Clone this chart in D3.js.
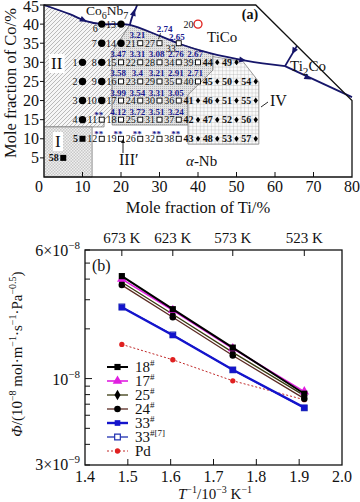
<!DOCTYPE html>
<html>
<head>
<meta charset="utf-8">
<script src="https://cdn.jsdelivr.net/npm/d3@7"></script>
<style>
body { margin: 0; background: #fff; }
text { font-family: "Liberation Serif", "DejaVu Serif", serif; fill: #111; }
</style>
</head>
<body>
<div id="chart"></div>
<script>
// ---- panel (a): alloy compositions (mole fraction Ti, Co) ----
var ptNum = [1,2,3,4,5,6,7,8,9,10,11,12,13,14,15,16,17,18,19,20,
    21,22,23,24,25,26,27,28,29,30,31,32,33,34,35,36,37,38,39,40,
    41,42,43,44,45,46,47,48,49,50,51,52,53,54,55,56,57,58];
var ptTi = [10,10,10,10,10,15,15,15,15,15,15,15,20,20,20,20,20,20,20,40,
    25,25,25,25,25,25,30,30,30,30,30,30,35,35,35,35,35,35,40,40,
    40,40,40,45,45,45,45,45,50,50,50,50,50,55,55,55,55,5];
var ptCo = [30,25,20,15,10,40,35,30,25,20,15,10,40,35,30,25,20,15,10,40,
    35,30,25,20,15,10,35,30,25,20,15,10,35,30,25,20,15,10,30,25,
    20,15,10,30,25,20,15,10,30,25,20,15,10,25,20,15,10,5];
var ptKind = ["dot","dot","dot","dot","sq","dot","dot","dot","dot","dot",
    "open","open","dot","dot","open","open","open","open","open","ring",
    "open","open","open","open","open","open","open","open","open","open",
    "open","open","open","open","open","open","open","open","open","open",
    "dia","dia","dia","dia","dia","dia","dia","dia","dia","dia",
    "dia","dia","dia","dia","dia","dia","dia","sq"];

// permeability values written over the samples
var permNum = [15,16,17,18,21,22,23,24,25,27,28,29,30,31,33,34,35,36,37,39,40];
var permVal = ["3.47","3.58","3.99","4.12","3.21","3.31","3.4","3.54","3.72",
    "2.74","3.08","3.21","3.31","3.51","2.65","2.76","2.91","3.05","3.24","2.67","2.71"];
var starNum = [11,12,19,26,32,38];

// phase boundaries (Ti, Co)
var mainLine = [[0,45],[6.7,42.6],[10.9,40.8],[15,40],[19.2,40],[22.3,39.8],
    [30.1,36.9],[35.3,34.8],[43.1,32.4],[52.7,30.4],[62.6,29]];
var co6nb7Line = [[22.3,39.8],[22.9,41.9],[23.8,44],[24.2,45]];
var ti2coUp = [[62.6,29],[65.7,34.3]];
var ti2coDown = [[62.6,29],[80,20.9]];

// shaded regions (Ti, Co)
var regionII = [[0,45],[6.7,42.6],[10.9,40.8],[15,40],[19.2,40],[22.3,39.8],
    [17.7,32.7],[17.7,17],[15.6,14.9],[15.6,13.1],[0,13.1]];
var regionIII = [[22.3,39.8],[30.1,36.9],[35.3,34.8],[43.1,32.4],[43.9,32.1],
    [43.9,28],[37.4,21.5],[37.4,13.6],[17.7,13.6],[17.7,32.7]];
var regionIV = [[43.9,31.5],[51.7,30.2],[55.8,24.9],[55.8,8.6],[37.4,8.6],[37.4,21.5],[43.9,28]];
var regionI = [[0,13.1],[12.5,13.1],[12.5,0],[0,0]];

// ---- panel (b): permeability vs 1/T ----
var invT = [1.486, 1.605, 1.745, 1.912];
var tempLabels = ["673 K", "623 K", "573 K", "523 K"];
var phi18 = [4.17e-8, 2.63e-8, 1.54e-8, 0.81e-8];
var phi17 = [4.00e-8, 2.59e-8, 1.52e-8, 0.834e-8];
var phi25 = [3.83e-8, 2.45e-8, 1.44e-8, 0.789e-8];
var phi24 = [3.68e-8, 2.35e-8, 1.38e-8, 0.756e-8];
var phi33 = [2.70e-8, 1.83e-8, 1.13e-8, 0.667e-8];
var phi33ref = [2.71e-8, 1.84e-8, 1.13e-8, 0.665e-8];
var phiPd = [1.61e-8, 1.30e-8, 0.97e-8, 0.745e-8];

var svg = d3.select("#chart").append("svg")
    .attr("width", 360)
    .attr("height", 502);

var defs = svg.append("defs");

//diagonal hatch for region II
var hatch = defs.append("pattern").attr("id", "hatch")
    .attr("patternUnits", "userSpaceOnUse").attr("width", 4).attr("height", 4);
hatch.append("rect").attr("width", 4).attr("height", 4).attr("fill", "#f6f6f6");
hatch.append("path").attr("d", "M-1,1L1,-1M0,4L4,0M3,5L5,3")
    .attr("stroke", "#a0a0a0").attr("stroke-width", 0.7);

//stipple for region III
var stip = defs.append("pattern").attr("id", "stip")
    .attr("patternUnits", "userSpaceOnUse").attr("width", 2).attr("height", 2);
stip.append("rect").attr("width", 2).attr("height", 2).attr("fill", "#e4e4e4");
stip.append("rect").attr("width", 1).attr("height", 1).attr("fill", "#b8b8b8");

//grid for region IV
var grid = defs.append("pattern").attr("id", "grid")
    .attr("patternUnits", "userSpaceOnUse").attr("width", 3.7).attr("height", 3.7);
grid.append("rect").attr("width", 3.7).attr("height", 3.7).attr("fill", "#fafafa");
grid.append("path").attr("d", "M0,0H3.7M0,0V3.7")
    .attr("stroke", "#a4a4a4").attr("stroke-width", 0.6);

//checker for region I
var check = defs.append("pattern").attr("id", "check")
    .attr("patternUnits", "userSpaceOnUse").attr("width", 3).attr("height", 3);
check.append("rect").attr("width", 3).attr("height", 3).attr("fill", "#f0f0f0");
check.append("rect").attr("width", 1.5).attr("height", 1.5).attr("fill", "#c8c8c8");
check.append("rect").attr("x", 1.5).attr("y", 1.5).attr("width", 1.5).attr("height", 1.5).attr("fill", "#c8c8c8");

// =================== panel (a) ===================
var xa = d3.scaleLinear().domain([0, 80]).range([44, 352]);
var ya = d3.scaleLinear().domain([0, 45]).range([177, 5]);
var lineA = d3.line().x(function(d){ return xa(d[0]); }).y(function(d){ return ya(d[1]); });
var curveA = d3.line().x(function(d){ return xa(d[0]); }).y(function(d){ return ya(d[1]); })
    .curve(d3.curveCatmullRom);

var pa = svg.append("g");

function region(pts, fill){
    pa.append("path")
        .attr("d", lineA(pts) + "Z")
        .attr("fill", fill)
        .attr("stroke", "#808080")
        .attr("stroke-width", 0.8);
}
region(regionII, "url(#hatch)");
region(regionIII, "url(#stip)");
region(regionIV, "url(#grid)");
region(regionI, "url(#check)");

//phase boundaries
var navy = "#16166a";
[mainLine, co6nb7Line, ti2coUp, ti2coDown].forEach(function(l){
    pa.append("path")
        .attr("d", curveA(l))
        .attr("fill", "none")
        .attr("stroke", navy)
        .attr("stroke-width", 1.8);
});

//arrowheads on the boundaries: [at, toward]
var arrows = [
    [[10.2, 41.1], [11.5, 40.5]],
    [[51.5, 30.6], [53, 30.35]],
    [[64.9, 33], [64.3, 31.9]],
    [[68.5, 26], [69.5, 25.5]],
    [[23.3, 43], [23.6, 44]]
];
arrows.forEach(function(a){
    var x0 = xa(a[0][0]), y0 = ya(a[0][1]);
    var ang = Math.atan2(ya(a[1][1]) - y0, xa(a[1][0]) - x0) * 180 / Math.PI;
    pa.append("path")
        .attr("d", "M4,0L-3,-3L-3,3Z")
        .attr("fill", navy)
        .attr("transform", "translate(" + x0 + "," + y0 + ") rotate(" + ang + ")");
});

//axes frame (composition triangle cuts the corner)
pa.append("path")
    .attr("d", lineA([[0,45],[55,45],[80,20],[80,0],[0,0]]) + "Z")
    .attr("fill", "none")
    .attr("stroke", "#111")
    .attr("stroke-width", 1.3);

//ticks
var xTicksA = d3.range(10, 80, 10);
pa.selectAll(".xtA").data(xTicksA).enter().append("line")
    .attr("x1", function(d){ return xa(d); }).attr("x2", function(d){ return xa(d); })
    .attr("y1", ya(0)).attr("y2", ya(0) - 5)
    .attr("stroke", "#111");
var yTicksA = d3.range(5, 50, 5);
pa.selectAll(".ytA").data(yTicksA).enter().append("line")
    .attr("x1", xa(0)).attr("x2", xa(0) - 4)
    .attr("y1", function(d){ return ya(d); }).attr("y2", function(d){ return ya(d); })
    .attr("stroke", "#111");

pa.selectAll(".xlA").data(d3.range(0, 90, 10)).enter().append("text")
    .attr("x", function(d){ return d == 0 ? xa(0) - 5 : xa(d); })
    .attr("y", 192)
    .attr("text-anchor", "middle")
    .style("font-size", "16px")
    .text(function(d){ return d; });
pa.selectAll(".ylA").data(yTicksA).enter().append("text")
    .attr("x", 39)
    .attr("y", function(d){ return d == 45 ? ya(d) + 7 : ya(d) + 5.5; })
    .attr("text-anchor", "end")
    .style("font-size", "16px")
    .text(function(d){ return d; });

pa.append("text")
    .attr("x", 198).attr("y", 213)
    .attr("text-anchor", "middle")
    .style("font-size", "16.5px")
    .text("Mole fraction of Ti/%");
pa.append("text")
    .attr("transform", "translate(16,83) rotate(-90)")
    .attr("text-anchor", "middle")
    .style("font-size", "16.5px")
    .text("Mole fraction of Co/%");

//sample markers
var pts = ptNum.map(function(n, i){
    return {n: n, x: xa(ptTi[i]), y: ya(ptCo[i]), kind: ptKind[i]};
});
var byNum = {};
pts.forEach(function(p){ byNum[p.n] = p; });

pts.forEach(function(p){
    if (p.kind == "dot") {
        pa.append("circle").attr("cx", p.x).attr("cy", p.y).attr("r", 3.7).attr("fill", "#000");
    } else if (p.kind == "sq") {
        pa.append("rect").attr("x", p.x - 3).attr("y", p.y - 3).attr("width", 6).attr("height", 6).attr("fill", "#000");
    } else if (p.kind == "open") {
        pa.append("rect").attr("x", p.x - 2.5).attr("y", p.y - 2.5).attr("width", 5).attr("height", 5)
            .attr("fill", "#fff").attr("stroke", "#000").attr("stroke-width", 0.9);
    } else if (p.kind == "dia") {
        pa.append("path").attr("d", "M0,-3L2.2,0L0,3L-2.2,0Z").attr("fill", "#000")
            .attr("transform", "translate(" + p.x + "," + p.y + ")");
    } else if (p.kind == "ring") {
        pa.append("circle").attr("cx", p.x).attr("cy", p.y).attr("r", 4)
            .attr("fill", "none").attr("stroke", "#e0201c").attr("stroke-width", 1.3);
    }
    //sample number
    var dx = p.kind == "dot" ? -5 : -4.5, dy = 3.5;
    if (p.n == 6) { dx = -4; dy = 8; }
    if (p.n == 33) { dx = -3; dy = 9; }
    pa.append("text")
        .attr("x", p.x + dx).attr("y", p.y + dy)
        .attr("text-anchor", "end")
        .style("font-size", "10px")
        .style("font-weight", p.kind == "sq" || p.kind == "dia" ? "bold" : "normal")
        .text(p.n);
});

//permeability labels
var blue = "#1a1a8e";
permNum.forEach(function(n, i){
    var p = byNum[n];
    var dx = -3, dy = -5;
    if (n == 27) { dx = 5; dy = -11.5; }
    if (n == 33) { dx = -2; dy = -3.5; }
    pa.append("text")
        .attr("x", p.x + dx).attr("y", p.y + dy)
        .attr("text-anchor", "middle")
        .style("font-size", "9px")
        .style("font-weight", "bold")
        .style("fill", blue)
        .text(permVal[i]);
});
//pointer from 2.74 to its sample
pa.append("line")
    .attr("x1", byNum[27].x + 1).attr("y1", byNum[27].y - 10)
    .attr("x2", byNum[27].x - 1).attr("y2", byNum[27].y - 4)
    .attr("stroke", "#111").attr("stroke-width", 0.8);
starNum.forEach(function(n){
    var p = byNum[n];
    pa.append("text")
        .attr("x", p.x - 3).attr("y", p.y - 1.5)
        .attr("text-anchor", "middle")
        .style("font-size", "9px")
        .style("font-weight", "bold")
        .style("fill", blue)
        .text("**");
});

//phase labels, subscripts shifted with dy
function label(x, y, size, parts, bg){
    var t = pa.append("text").attr("x", x).attr("y", y).style("font-size", size + "px");
    var low = false;
    parts.forEach(function(s){
        var ts = t.append("tspan").text(s[0]);
        if (s[1] == "sub") { ts.style("font-size", (size * 0.75) + "px").attr("dy", 3.5); low = true; }
        else if (low) { ts.attr("dy", -3.5); low = false; }
        if (s[1] == "it") ts.style("font-style", "italic");
    });
    if (bg) {
        var b = t.node().getBBox();
        pa.insert("rect", "text").attr("x", b.x - 2).attr("y", b.y).attr("width", b.width + 4)
            .attr("height", b.height).attr("fill", "#fff");
    }
    return t;
}
label(86, 15, 13.5, [["Co"], ["6", "sub"], ["Nb"], ["7", "sub"]]);
label(207, 42, 15, [["TiCo"]]);
label(290, 71, 15, [["Ti"], ["2", "sub"], ["Co"]]);
label(51, 69, 17, [["II"]], true);
label(55, 147, 17, [["I"]], true);
label(119, 165, 16, [["III\u2032"]]);
label(270, 106, 16, [["IV"]]);
label(186, 166, 15, [["\u03b1", "it"], ["-Nb"]]);
pa.append("text").attr("x", 250).attr("y", 19)
    .attr("text-anchor", "middle")
    .style("font-size", "14px").style("font-weight", "bold")
    .text("(a)");
//leader lines
pa.append("line").attr("x1", 123).attr("y1", 153).attr("x2", 123).attr("y2", 141)
    .attr("stroke", "#111").attr("stroke-width", 0.9);
pa.append("path").attr("d", "M123,139L121,143L125,143Z").attr("fill", "#111");
pa.append("line").attr("x1", 268).attr("y1", 102).attr("x2", 261).attr("y2", 107)
    .attr("stroke", "#111").attr("stroke-width", 0.9);

// =================== panel (b) ===================
var xb = d3.scaleLinear().domain([1.4, 2.0]).range([85, 342]);
var yb = d3.scaleLog().domain([3e-9, 6e-8]).range([465, 250]);
var pb = svg.append("g");

pb.append("rect")
    .attr("x", xb(1.4)).attr("y", yb(6e-8))
    .attr("width", xb(2.0) - xb(1.4)).attr("height", yb(3e-9) - yb(6e-8))
    .attr("fill", "none").attr("stroke", "#111").attr("stroke-width", 1.3);

//bottom ticks
var xTicksB = [1.5, 1.6, 1.7, 1.8, 1.9];
pb.selectAll(".xtB").data(xTicksB).enter().append("line")
    .attr("x1", function(d){ return xb(d); }).attr("x2", function(d){ return xb(d); })
    .attr("y1", yb(3e-9)).attr("y2", yb(3e-9) - 6)
    .attr("stroke", "#111");
pb.selectAll(".xlB").data([1.4, 1.5, 1.6, 1.7, 1.8, 1.9, 2.0]).enter().append("text")
    .attr("x", function(d){ return xb(d); })
    .attr("y", 482)
    .attr("text-anchor", "middle")
    .style("font-size", "16px")
    .text(function(d){ return d3.format(".1f")(d); });

//top ticks (temperatures)
pb.selectAll(".ttB").data(invT).enter().append("line")
    .attr("x1", function(d){ return xb(d); }).attr("x2", function(d){ return xb(d); })
    .attr("y1", yb(6e-8)).attr("y2", yb(6e-8) + 6)
    .attr("stroke", "#111");
pb.selectAll(".tlB").data(invT).enter().append("text")
    .attr("x", function(d){ return xb(d); })
    .attr("y", 243)
    .attr("text-anchor", "middle")
    .style("font-size", "15px")
    .text(function(d, i){ return tempLabels[i]; });

//log ticks
var yTicksB = d3.range(3, 10).map(function(v){ return v * 1e-9; })
    .concat(d3.range(1, 7).map(function(v){ return v * 1e-8; }));
pb.selectAll(".ytB").data(yTicksB).enter().append("line")
    .attr("x1", xb(1.4)).attr("x2", function(d){ return xb(1.4) + (d == 1e-8 ? 7 : 5); })
    .attr("y1", function(d){ return yb(d); }).attr("y2", function(d){ return yb(d); })
    .attr("stroke", "#111");

function powLabel(x, y, pre, exp){
    var t = pb.append("text").attr("x", x).attr("y", y)
        .attr("text-anchor", "end").style("font-size", "16px");
    t.append("tspan").text(pre + "10");
    t.append("tspan").attr("dy", -7).style("font-size", "11px").text(exp);
}
powLabel(80, yb(6e-8) + 6, "6\u00d7", "\u22128");
powLabel(80, yb(1e-8) + 6, "", "\u22128");
powLabel(80, yb(3e-9) + 5, "3\u00d7", "\u22129");

//axis titles
var xt = pb.append("text").attr("x", 215).attr("y", 499)
    .attr("text-anchor", "middle").style("font-size", "15px");
xt.append("tspan").style("font-style", "italic").text("T");
xt.append("tspan").attr("dy", -6).style("font-size", "10px").text("\u22121");
xt.append("tspan").attr("dy", 6).text("/10");
xt.append("tspan").attr("dy", -6).style("font-size", "10px").text("\u22123");
xt.append("tspan").attr("dy", 6).text(" K");
xt.append("tspan").attr("dy", -6).style("font-size", "10px").text("\u22121");

var yt = pb.append("text").attr("transform", "translate(22,354) rotate(-90)")
    .attr("text-anchor", "middle").style("font-size", "15px");
var ytParts = [["\u03a6", "it"], ["/(10"], ["\u22128", "sup"], [" mol\u00b7m"], ["\u22121", "sup"],
    ["\u00b7s"], ["\u22121", "sup"], ["\u00b7Pa"], ["\u22120.5", "sup"], [")"]];
var up = false;
ytParts.forEach(function(s){
    var ts = yt.append("tspan").text(s[0]);
    if (s[1] == "it") ts.style("font-style", "italic");
    if (s[1] == "sup") { ts.attr("dy", -6).style("font-size", "10px"); up = true; }
    else if (up) { ts.attr("dy", 6); up = false; }
});

pb.append("text").attr("x", 92).attr("y", 271)
    .style("font-size", "16px").text("(b)");

//series
var series = [
    {name: "18", sup: "#", vals: phi18, color: "#000", line: "#000", w: 2, sym: d3.symbolSquare, size: 38, fill: "#000"},
    {name: "17", sup: "#", vals: phi17, color: "#e01ee0", line: "#e01ee0", w: 1.6, sym: d3.symbolTriangle, size: 40, fill: "#e01ee0"},
    {name: "25", sup: "#", vals: phi25, color: "#000", line: "#3a3a10", w: 1.3, sym: d3.symbolDiamond, size: 32, fill: "#000"},
    {name: "24", sup: "#", vals: phi24, color: "#000", line: "#5a2a22", w: 1.3, sym: d3.symbolCircle, size: 34, fill: "#000"},
    {name: "33", sup: "#", vals: phi33, color: "#1414cc", line: "#1414cc", w: 2.4, sym: d3.symbolSquare, size: 32, fill: "#1414cc"},
    {name: "33", sup: "#[7]", vals: phi33ref, color: "#2030b0", line: "#2030b0", w: 1.3, sym: d3.symbolSquare, size: 32, fill: "#fff"},
    {name: "Pd", sup: "", vals: phiPd, color: "#e02020", line: "#c02828", w: 1, sym: d3.symbolCircle, size: 22, fill: "#e02020", dash: "2,2"}
];

var lineB = d3.line()
    .x(function(d, i){ return xb(invT[i]); })
    .y(function(d){ return yb(d); });

series.slice().reverse().forEach(function(s){
    pb.append("path")
        .attr("d", lineB(s.vals))
        .attr("fill", "none")
        .attr("stroke", s.line)
        .attr("stroke-width", s.w)
        .attr("stroke-dasharray", s.dash || null);
    pb.selectAll(null).data(s.vals).enter().append("path")
        .attr("d", d3.symbol().type(s.sym).size(s.size))
        .attr("transform", function(d, i){ return "translate(" + xb(invT[i]) + "," + yb(d) + ")"; })
        .attr("fill", s.fill)
        .attr("stroke", s.color)
        .attr("stroke-width", s.fill == "#fff" ? 1.2 : 0);
});

//legend
var legY = [367, 381, 395, 409, 423, 437, 451];
series.forEach(function(s, i){
    var g = pb.append("g").attr("transform", "translate(0," + legY[i] + ")");
    g.append("line").attr("x1", 107).attr("x2", 128)
        .attr("stroke", s.line).attr("stroke-width", s.w)
        .attr("stroke-dasharray", s.dash || null);
    g.append("path")
        .attr("d", d3.symbol().type(s.sym).size(s.size))
        .attr("transform", "translate(117.5,0)")
        .attr("fill", s.fill)
        .attr("stroke", s.color)
        .attr("stroke-width", s.fill == "#fff" ? 1.2 : 0);
    var t = g.append("text").attr("x", 135).attr("y", 5).style("font-size", "15px");
    t.append("tspan").text(s.name);
    if (s.sup) t.append("tspan").attr("dy", -6).style("font-size", "9px").text(s.sup);
});
</script>
</body>
</html>
